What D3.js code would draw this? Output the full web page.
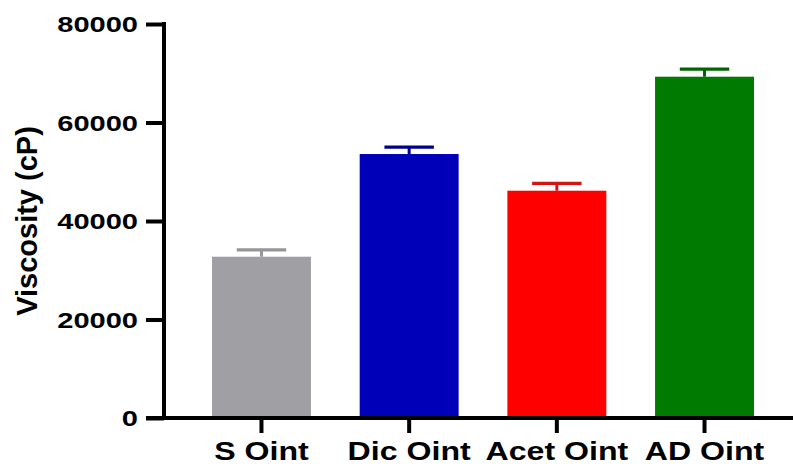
<!DOCTYPE html>
<html>
<head>
<meta charset="utf-8">
<script src="https://cdn.jsdelivr.net/npm/d3@7"></script>
<style>
  html, body { margin: 0; padding: 0; background: #fff; }
  svg { display: block; }
  text { font-family: "Liberation Sans", Arial, sans-serif; font-weight: bold; fill: #000; }
</style>
</head>
<body>
<svg id="chart" width="793" height="464"></svg>
<script>
// Viscosity of ointment formulations (mean + SD)
const categories = ["S Oint", "Dic Oint", "Acet Oint", "AD Oint"];
const meanValues = [32750, 53600, 46150, 69300];
const sdValues = [1400, 1400, 1500, 1550];
const barColors = ["#a0a0a4", "#0000b8", "#ff0000", "#007a00"];
const capColors = ["#96969a", "#00008c", "#d41414", "#006400"];
const yTicks = [0, 20000, 40000, 60000, 80000];
const yTitle = "Viscosity (cP)";

const svg = d3.select("#chart");

const y = d3.scaleLinear().domain([0, 80000]).range([418, 24]);
const x = d3.scaleBand()
  .domain(categories)
  .range([164, 802])
  .paddingInner(0.33)
  .paddingOuter(0.325);

// bars
svg.append("g").selectAll("rect")
  .data(categories)
  .join("rect")
  .attr("x", d => x(d))
  .attr("width", x.bandwidth())
  .attr("y", (d, i) => y(meanValues[i]))
  .attr("height", (d, i) => y(0) - y(meanValues[i]))
  .attr("fill", (d, i) => barColors[i]);

// upper error bars
const err = svg.append("g");
categories.forEach((c, i) => {
  const cx = x(c) + x.bandwidth() / 2;
  const top = y(meanValues[i] + sdValues[i]);
  const capHalf = x.bandwidth() / 4;
  err.append("line")
    .attr("x1", cx).attr("x2", cx)
    .attr("y1", y(meanValues[i])).attr("y2", top)
    .attr("stroke", capColors[i]).attr("stroke-width", 3);
  err.append("line")
    .attr("x1", cx - capHalf).attr("x2", cx + capHalf)
    .attr("y1", top).attr("y2", top)
    .attr("stroke", capColors[i]).attr("stroke-width", 3.2);
});

// y axis
const yAxis = svg.append("g")
  .attr("transform", "translate(164,0)")
  .call(d3.axisLeft(y).tickValues(yTicks).tickFormat(d3.format("d")).tickSize(18).tickSizeOuter(0).tickPadding(8));
yAxis.select(".domain").remove();
yAxis.selectAll(".tick line").attr("stroke", "#000").attr("stroke-width", 4);
yAxis.selectAll(".tick text")
  .style("font-size", "22px")
  .attr("x", null)
  .attr("dy", "0.36em")
  .attr("text-anchor", "end")
  .attr("transform", "translate(-26,0) scale(1.32,1)");
svg.append("line")
  .attr("x1", 164).attr("x2", 164)
  .attr("y1", y(80000) - 2).attr("y2", y(0) + 2)
  .attr("stroke", "#000").attr("stroke-width", 4);

// x axis
const xAxis = svg.append("g")
  .attr("transform", "translate(0,418)")
  .call(d3.axisBottom(x).tickSize(15).tickSizeOuter(0));
xAxis.select(".domain").remove();
xAxis.selectAll(".tick line").attr("stroke", "#000").attr("stroke-width", 4);
xAxis.selectAll(".tick text")
  .style("font-size", "25.5px")
  .attr("y", null)
  .attr("dy", null)
  .attr("text-anchor", "middle")
  .attr("transform", "translate(0,41.5) scale(1.26,1)");
svg.append("line")
  .attr("x1", 146).attr("x2", 793)
  .attr("y1", 418).attr("y2", 418)
  .attr("stroke", "#000").attr("stroke-width", 4);

// y title
svg.append("text")
  .attr("transform", "translate(37,221) rotate(-90)")
  .attr("text-anchor", "middle")
  .style("font-size", "29px")
  .text(yTitle);
</script>
</body>
</html>
